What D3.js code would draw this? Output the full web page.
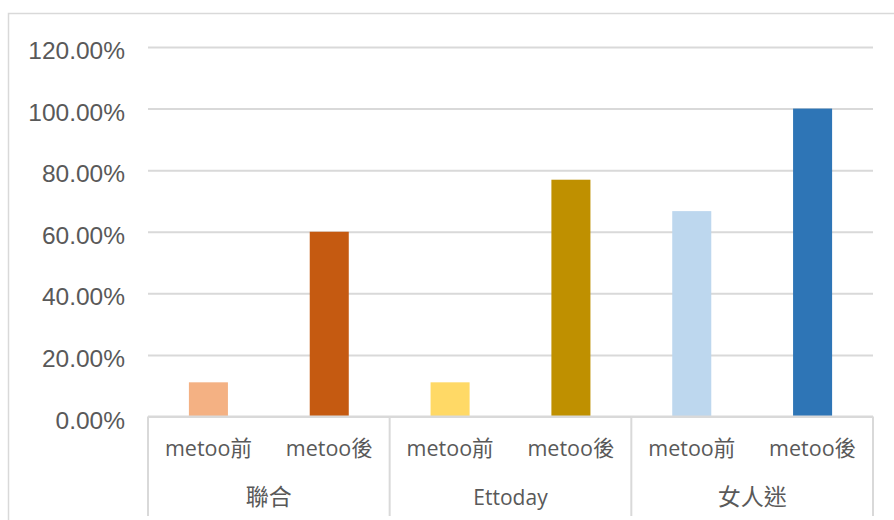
<!DOCTYPE html>
<html>
<head>
<meta charset="utf-8">
<script src="https://cdn.jsdelivr.net/npm/d3@7"></script>
<style>
  body { margin: 0; background: #fff; }
  svg { display: block; }
</style>
</head>
<body>
<svg></svg>
<script>
const W = 894, H = 520;

// data
const groups = ['聯合', 'Ettoday', '女人迷'];
const periods = ['metoo前', 'metoo後'];
const values = [
  [0.111, 0.600],
  [0.111, 0.769],
  [0.667, 1.000]
];
const yTicks = [0, 0.2, 0.4, 0.6, 0.8, 1.0, 1.2];
const barColors = [
  ['#f4b183', '#c55a11'],
  ['#ffd966', '#bf9000'],
  ['#bdd7ee', '#2e75b6']
];

const plotL = 148, plotR = 873, plotT = 47, base = 416.5, plotB = 516;
const gridColor = '#d9d9d9';
const textColor = '#595959';

const svg = d3.select('svg').attr('width', W).attr('height', H);

// chart frame
svg.append('rect')
  .attr('x', 8.5).attr('y', 13.5)
  .attr('width', W + 10).attr('height', H + 10)
  .attr('fill', 'none').attr('stroke', gridColor).attr('stroke-width', 1.5);

const y = d3.scaleLinear().domain([0, 1.2]).range([base, plotT]);

const x0 = d3.scaleBand().domain(groups).range([plotL, plotR]).padding(0);
const x1 = d3.scaleBand().domain(periods).range([0, x0.bandwidth()])
  .paddingInner(0.677).paddingOuter(0.3385);

// y axis with gridlines
const yAxis = svg.append('g')
  .attr('transform', `translate(${plotL},0)`)
  .call(d3.axisLeft(y).tickValues(yTicks).tickFormat(d3.format('.2%'))
    .tickSizeInner(-(plotR - plotL)).tickSizeOuter(0).tickPadding(23));
yAxis.select('.domain').remove();
yAxis.selectAll('.tick line').attr('stroke', gridColor).attr('stroke-width', 2);
yAxis.selectAll('.tick text')
  .attr('fill', textColor)
  .attr('dy', '0.47em')
  .style('font-family', '"Liberation Sans", Arial, sans-serif')
  .style('font-size', '24.5px');

// bars
const g = svg.selectAll('.grp').data(groups).enter().append('g')
  .attr('class', 'grp')
  .attr('transform', d => `translate(${x0(d)},0)`);

g.selectAll('rect')
  .data((d, i) => periods.map((p, j) => ({ p, v: values[i][j], c: barColors[i][j] })))
  .enter().append('rect')
  .attr('x', d => x1(d.p))
  .attr('width', x1.bandwidth())
  .attr('y', d => y(d.v))
  .attr('height', d => base - y(d.v))
  .attr('fill', d => d.c);

// category axis
svg.append('line')
  .attr('x1', plotL).attr('x2', plotR).attr('y1', base).attr('y2', base)
  .attr('stroke', gridColor).attr('stroke-width', 2);

const seps = groups.map(d => x0(d)).concat([plotR]);
svg.selectAll('.sep').data(seps).enter().append('line')
  .attr('class', 'sep')
  .attr('x1', d => d).attr('x2', d => d)
  .attr('y1', base).attr('y2', plotB)
  .attr('stroke', gridColor).attr('stroke-width', 2);

const font = '"Open Sans", "Noto Sans CJK TC", sans-serif';

g.selectAll('.plabel')
  .data(periods)
  .enter().append('text')
  .attr('class', 'plabel')
  .attr('x', d => x1(d) + x1.bandwidth() / 2)
  .attr('y', 456)
  .attr('text-anchor', 'middle')
  .attr('fill', textColor)
  .style('font-family', font)
  .style('font-size', '21.5px')
  .text(d => d);

g.append('text')
  .attr('x', x0.bandwidth() / 2)
  .attr('y', 505)
  .attr('text-anchor', 'middle')
  .attr('fill', textColor)
  .style('font-family', font)
  .style('font-size', d => d === 'Ettoday' ? '21px' : '23px')
  .text(d => d);
</script>
</body>
</html>
